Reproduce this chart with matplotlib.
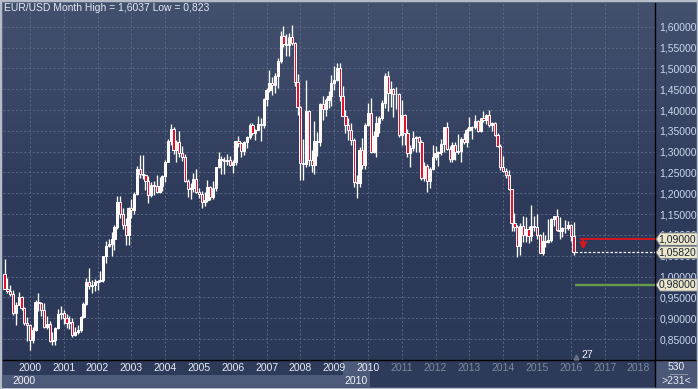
import numpy as np
import matplotlib
matplotlib.use('Agg')
import matplotlib.pyplot as plt
from matplotlib.patches import Rectangle, Polygon
from matplotlib.lines import Line2D
from matplotlib.colors import LinearSegmentedColormap

plt.rcParams['font.family'] = ['Liberation Sans', 'DejaVu Sans']

# EUR/USD monthly bars, Jan 2000 .. Nov 2016 (one row per year)
opens = [
    1.0070, 0.9711, 0.9650, 0.9575, 0.9125, 0.9330, 0.9520, 0.9240, 0.8880, 0.8830, 0.8490, 0.8710,
    0.9390, 0.9370, 0.9210, 0.8800, 0.8870, 0.8465, 0.8480, 0.8770, 0.9110, 0.9130, 0.9000, 0.8890,
    0.8900, 0.8610, 0.8680, 0.8720, 0.9020, 0.9340, 0.9870, 0.9780, 0.9810, 0.9860, 0.9890, 0.9930,
    1.0490, 1.0730, 1.0780, 1.0910, 1.1180, 1.1800, 1.1500, 1.1250, 1.0990, 1.1650, 1.1590, 1.1990,
    1.2590, 1.2460, 1.2440, 1.2300, 1.1950, 1.2200, 1.2180, 1.2030, 1.2170, 1.2410, 1.2760, 1.3260,
    1.3550, 1.3040, 1.3240, 1.2960, 1.2870, 1.2290, 1.2100, 1.2130, 1.2340, 1.2030, 1.1990, 1.1790,
    1.1840, 1.2160, 1.1920, 1.2120, 1.2620, 1.2820, 1.2790, 1.2770, 1.2810, 1.2680, 1.2760, 1.3250,
    1.3200, 1.3020, 1.3230, 1.3360, 1.3650, 1.3450, 1.3530, 1.3670, 1.3630, 1.4260, 1.4480, 1.4640,
    1.4590, 1.4810, 1.5170, 1.5780, 1.5590, 1.5550, 1.5750, 1.5600, 1.4670, 1.4080, 1.2730, 1.2700,
    1.3970, 1.2800, 1.2670, 1.3250, 1.3230, 1.4150, 1.4030, 1.4250, 1.4340, 1.4640, 1.4720, 1.5000,
    1.4330, 1.3860, 1.3630, 1.3510, 1.3290, 1.2280, 1.2240, 1.3050, 1.2680, 1.3630, 1.3930, 1.2990,
    1.3370, 1.3690, 1.3800, 1.4160, 1.4810, 1.4400, 1.4500, 1.4390, 1.4380, 1.3390, 1.3880, 1.3440,
    1.2960, 1.3080, 1.3330, 1.3340, 1.3240, 1.2360, 1.2660, 1.2300, 1.2580, 1.2860, 1.2970, 1.2990,
    1.3190, 1.3580, 1.3060, 1.2820, 1.3170, 1.3000, 1.3010, 1.3300, 1.3220, 1.3520, 1.3580, 1.3590,
    1.3740, 1.3490, 1.3800, 1.3770, 1.3870, 1.3630, 1.3690, 1.3390, 1.3130, 1.2630, 1.2530, 1.2450,
    1.2100, 1.1290, 1.1200, 1.0730, 1.1220, 1.0990, 1.1150, 1.0980, 1.1210, 1.1180, 1.1010, 1.0570,
    1.0860, 1.0830, 1.0870, 1.1380, 1.1450, 1.1130, 1.1100, 1.1170, 1.1160, 1.1240, 1.0980,
]
highs = [
    1.0414, 0.9955, 0.9805, 0.9690, 0.9400, 0.9640, 0.9530, 0.9260, 0.9035, 0.8860, 0.8800, 0.9450,
    0.9595, 0.9390, 0.9370, 0.9060, 0.8930, 0.8660, 0.8800, 0.9230, 0.9300, 0.9200, 0.9100, 0.9060,
    0.9000, 0.8780, 0.8840, 0.9060, 0.9380, 0.9960, 1.0210, 0.9920, 0.9940, 0.9910, 1.0140, 1.0500,
    1.0860, 1.0900, 1.1080, 1.1230, 1.1930, 1.1930, 1.1640, 1.1400, 1.1680, 1.1860, 1.2030, 1.2650,
    1.2930, 1.2930, 1.2470, 1.2420, 1.2280, 1.2300, 1.2430, 1.2380, 1.2440, 1.2800, 1.3300, 1.3660,
    1.3580, 1.3270, 1.3490, 1.3140, 1.2950, 1.2350, 1.2240, 1.2490, 1.2590, 1.2130, 1.2050, 1.2040,
    1.2320, 1.2180, 1.2290, 1.2640, 1.2980, 1.2900, 1.2880, 1.2940, 1.2900, 1.2790, 1.3260, 1.3370,
    1.3220, 1.3250, 1.3370, 1.3680, 1.3690, 1.3540, 1.3850, 1.3800, 1.4280, 1.4530, 1.4970, 1.4800,
    1.4880, 1.5240, 1.5900, 1.6020, 1.5820, 1.5850, 1.6037, 1.5630, 1.4860, 1.4090, 1.3300, 1.4720,
    1.4000, 1.3050, 1.3740, 1.3470, 1.4180, 1.4340, 1.4300, 1.4450, 1.4840, 1.5060, 1.5140, 1.5140,
    1.4580, 1.3990, 1.3820, 1.3690, 1.3320, 1.2450, 1.3110, 1.3330, 1.3680, 1.4160, 1.4280, 1.3500,
    1.3860, 1.3860, 1.4250, 1.4880, 1.4940, 1.4700, 1.4540, 1.4550, 1.4420, 1.4250, 1.3900, 1.3550,
    1.3170, 1.3490, 1.3380, 1.3380, 1.3280, 1.2740, 1.2700, 1.2640, 1.3170, 1.3140, 1.3010, 1.3310,
    1.3590, 1.3710, 1.3140, 1.3240, 1.3240, 1.3420, 1.3350, 1.3450, 1.3570, 1.3830, 1.3610, 1.3890,
    1.3770, 1.3820, 1.3970, 1.3910, 1.3990, 1.3700, 1.3700, 1.3440, 1.3180, 1.2890, 1.2600, 1.2570,
    1.2110, 1.1530, 1.1240, 1.1290, 1.1460, 1.1440, 1.1220, 1.1710, 1.1460, 1.1500, 1.1030, 1.1060,
    1.0990, 1.1380, 1.1410, 1.1460, 1.1620, 1.1430, 1.1190, 1.1370, 1.1330, 1.1260, 1.1300,
]
lows = [
    0.9700, 0.9600, 0.9530, 0.9080, 0.8845, 0.9320, 0.9190, 0.8850, 0.8460, 0.8228, 0.8400, 0.8690,
    0.9165, 0.9060, 0.8760, 0.8740, 0.8440, 0.8350, 0.8370, 0.8750, 0.8980, 0.8870, 0.8760, 0.8740,
    0.8560, 0.8570, 0.8620, 0.8680, 0.9010, 0.9310, 0.9700, 0.9600, 0.9660, 0.9680, 0.9860, 0.9870,
    1.0330, 1.0700, 1.0500, 1.0630, 1.1150, 1.1400, 1.1140, 1.0760, 1.0770, 1.1410, 1.1500, 1.1960,
    1.2370, 1.2340, 1.2080, 1.1760, 1.1900, 1.1960, 1.2000, 1.2000, 1.2050, 1.2260, 1.2740, 1.3150,
    1.2950, 1.2760, 1.2880, 1.2770, 1.2270, 1.1910, 1.1870, 1.2040, 1.2010, 1.1880, 1.1640, 1.1700,
    1.1800, 1.1830, 1.1860, 1.2050, 1.2600, 1.2460, 1.2460, 1.2690, 1.2660, 1.2480, 1.2690, 1.3100,
    1.2860, 1.2930, 1.3090, 1.3310, 1.3410, 1.3270, 1.3520, 1.3260, 1.3560, 1.4090, 1.4440, 1.4360,
    1.4400, 1.4520, 1.5140, 1.5520, 1.5290, 1.5300, 1.5560, 1.4580, 1.3880, 1.2330, 1.2330, 1.2630,
    1.2660, 1.2510, 1.2460, 1.2890, 1.3130, 1.3750, 1.3850, 1.4050, 1.4090, 1.4480, 1.4700, 1.4210,
    1.3850, 1.3440, 1.3270, 1.3160, 1.2140, 1.1880, 1.2150, 1.2590, 1.2590, 1.3610, 1.2970, 1.2970,
    1.2870, 1.3440, 1.3750, 1.4050, 1.3970, 1.4070, 1.3840, 1.4020, 1.3360, 1.3150, 1.3150, 1.2860,
    1.2620, 1.3020, 1.3000, 1.3000, 1.2330, 1.2290, 1.2040, 1.2130, 1.2560, 1.2800, 1.2660, 1.2930,
    1.3000, 1.3050, 1.2750, 1.2750, 1.2790, 1.2950, 1.2750, 1.3190, 1.3100, 1.3500, 1.3300, 1.3540,
    1.3480, 1.3470, 1.3710, 1.3670, 1.3590, 1.3500, 1.3370, 1.3120, 1.2570, 1.2500, 1.2360, 1.2090,
    1.1100, 1.1100, 1.0460, 1.0520, 1.0820, 1.0820, 1.0800, 1.0850, 1.1100, 1.0900, 1.0560, 1.0520,
    1.0710, 1.0810, 1.0820, 1.1210, 1.1100, 1.0910, 1.0950, 1.1050, 1.1120, 1.0850, 1.0520,
]
closes = [
    0.9711, 0.9650, 0.9575, 0.9125, 0.9330, 0.9520, 0.9240, 0.8880, 0.8830, 0.8490, 0.8710, 0.9390,
    0.9370, 0.9210, 0.8800, 0.8870, 0.8465, 0.8480, 0.8770, 0.9110, 0.9130, 0.9000, 0.8890, 0.8900,
    0.8610, 0.8680, 0.8720, 0.9020, 0.9340, 0.9870, 0.9780, 0.9810, 0.9860, 0.9890, 0.9930, 1.0490,
    1.0730, 1.0780, 1.0910, 1.1180, 1.1800, 1.1500, 1.1250, 1.0990, 1.1650, 1.1590, 1.1990, 1.2590,
    1.2460, 1.2440, 1.2300, 1.1950, 1.2200, 1.2180, 1.2030, 1.2170, 1.2410, 1.2760, 1.3260, 1.3550,
    1.3040, 1.3240, 1.2960, 1.2870, 1.2290, 1.2100, 1.2130, 1.2340, 1.2030, 1.1990, 1.1790, 1.1840,
    1.2160, 1.1920, 1.2120, 1.2620, 1.2820, 1.2790, 1.2770, 1.2810, 1.2680, 1.2760, 1.3250, 1.3200,
    1.3020, 1.3230, 1.3360, 1.3650, 1.3450, 1.3530, 1.3670, 1.3630, 1.4260, 1.4480, 1.4640, 1.4590,
    1.4810, 1.5170, 1.5780, 1.5590, 1.5550, 1.5750, 1.5600, 1.4670, 1.4080, 1.2730, 1.2700, 1.3970,
    1.2800, 1.2670, 1.3250, 1.3230, 1.4150, 1.4030, 1.4250, 1.4340, 1.4640, 1.4720, 1.5000, 1.4330,
    1.3860, 1.3630, 1.3510, 1.3290, 1.2280, 1.2240, 1.3050, 1.2680, 1.3630, 1.3930, 1.2990, 1.3370,
    1.3690, 1.3800, 1.4160, 1.4810, 1.4400, 1.4500, 1.4390, 1.4380, 1.3390, 1.3880, 1.3440, 1.2960,
    1.3080, 1.3330, 1.3340, 1.3240, 1.2360, 1.2660, 1.2300, 1.2580, 1.2860, 1.2970, 1.2990, 1.3190,
    1.3580, 1.3060, 1.2820, 1.3170, 1.3000, 1.3010, 1.3300, 1.3220, 1.3520, 1.3580, 1.3590, 1.3740,
    1.3490, 1.3800, 1.3770, 1.3870, 1.3630, 1.3690, 1.3390, 1.3130, 1.2630, 1.2530, 1.2450, 1.2100,
    1.1290, 1.1200, 1.0730, 1.1220, 1.0990, 1.1150, 1.0980, 1.1210, 1.1180, 1.1010, 1.0570, 1.0860,
    1.0830, 1.0870, 1.1380, 1.1450, 1.1130, 1.1100, 1.1170, 1.1160, 1.1240, 1.0980, 1.0582,
]

year_labels = [str(y) for y in range(2000, 2019)]
price_ticks = [0.85, 0.90, 0.95, 1.00, 1.05, 1.10, 1.15, 1.20, 1.25, 1.30,
               1.35, 1.40, 1.45, 1.50, 1.55, 1.60]
level_red = 1.09
level_last = 1.0582
level_green = 0.98
title = 'EUR/USD Month High = 1,6037 Low = 0,823'

W, H = 698, 389
fig = plt.figure(figsize=(W / 100, H / 100), dpi=100)
fig.patch.set_facecolor('#2e3a5a')


def fx(px):
    return px / W


def fy(py):
    # py counted from the top of the image
    return 1 - py / H


# background gradient (lighter at the top)
bg = fig.add_axes([0, 0, 1, 1], zorder=-5)
grad = np.linspace(0, 1, 256).reshape(-1, 1)
cmap = LinearSegmentedColormap.from_list('bg', ['#2c3858', '#2f3b5b', '#43516f'])
bg.imshow(grad, aspect='auto', cmap=cmap, extent=[0, 1, 0, 1], origin='lower')
bg.set_xlim(0, 1)
bg.set_ylim(0, 1)
bg.axis('off')

# main price panel
ax = fig.add_axes([fx(3), fy(360), fx(652), 357 / H])
ax.set_facecolor('none')
ax.set_xlim(-0.57, 230.9)
ax.set_ylim(0.7998, 1.6569)
ax.set_axisbelow(True)

o = np.array(opens)
hi = np.array(highs)
lo = np.array(lows)
c = np.array(closes)
idx = np.arange(len(c))
up = c >= o

ax.vlines(idx, lo, hi, color='white', lw=0.95, zorder=3)
ax.bar(idx, np.abs(c - o), bottom=np.minimum(o, c), width=0.8,
       color=np.where(up, '#fdf8f0', '#e8102c'), edgecolor='white',
       linewidth=0.7, zorder=4)

# grid + axes
ax.set_yticks(price_ticks)
ax.set_yticklabels([f'{t:.5f}'.replace('.', ',') for t in price_ticks])
ax.yaxis.tick_right()
ax.tick_params(axis='y', length=0, pad=3, labelsize=7.5, labelcolor='#c9d8ef')
year_pos = [9 + 12 * k for k in range(len(year_labels))]
ax.set_xticks(year_pos)
ax.set_xticklabels(year_labels)
ax.tick_params(axis='x', length=0, pad=2, labelsize=7.5)
for lab, yl in zip(ax.get_xticklabels(), year_labels):
    lab.set_color('#e8ecf4' if int(yl) <= 2010 else '#7f889e')
ax.grid(True, color='#5f6d8b', linestyle=(0, (2.5, 2.5)), linewidth=0.6)
for s in ['top', 'left']:
    ax.spines[s].set_visible(False)
for s in ['right', 'bottom']:
    ax.spines[s].set_color('black')
    ax.spines[s].set_linewidth(1)

# level lines
x_end = ax.get_xlim()[1]
ax.hlines(level_red, 204.3, x_end, color='#e3141c', lw=1.3, zorder=5)
ax.hlines(level_last, 202.6, x_end, color='white', lw=0.9,
          linestyle=(0, (2, 1.5)), zorder=5)
ax.hlines(level_green, 202.6, x_end, color='#6a9a4c', lw=1.7, zorder=5)
ax.annotate('', xy=(205.4, 1.065), xytext=(205.4, level_red),
            arrowprops=dict(arrowstyle='->', color='#e3141c', lw=1.4,
                            mutation_scale=10, shrinkA=0, shrinkB=0), zorder=6)
ax.plot([202.9], [0.807], marker='^', color='#6b7284', markersize=3.5,
        linestyle='none', zorder=6)

# price tags on the right scale (they sit over the scale labels, as in the source)
ax_r = fig.add_axes([fx(655), fy(360), fx(43), 357 / H], zorder=3)
ax_r.set_xlim(0, 43)
ax_r.set_ylim(ax.get_ylim())
ax_r.axis('off')
ax_r.patch.set_alpha(0)
hh = 6.2 / 416.5
for v in [level_red, level_last, level_green]:
    pts = [(1, v), (5, v + hh), (42.5, v + hh), (42.5, v - hh), (5, v - hh)]
    ax_r.add_patch(Polygon(pts, closed=True, facecolor='#ece7cb',
                           edgecolor='#6b7280', lw=0.6, zorder=4))
    ax_r.text(3.5, v, f'{v:.5f}'.replace('.', ','), ha='left', va='center',
              fontsize=7.5, color='#1c2233', zorder=5)


# bottom bands
def frect(x0, y0, x1, y1, color, z=-1):
    fig.add_artist(Rectangle((fx(x0), fy(y1)), fx(x1 - x0), (y1 - y0) / H,
                             transform=fig.transFigure, facecolor=color,
                             edgecolor='none', zorder=z))


frect(3, 361, 655, 387, '#2e3a5a')
frect(3, 375, 370, 387, '#4e5a79')
frect(343, 361, 370, 387, '#4e5a79')
frect(656, 361, 696, 387, '#4a5776')
fig.text(fx(12), fy(381), '2000', ha='left', va='center', fontsize=7.5, color='#f0f3f8')
fig.text(fx(344), fy(381), '2010', ha='left', va='center', fontsize=7.5, color='#f0f3f8')
fig.text(fx(676), fy(367), '530', ha='center', va='center', fontsize=7.5, color='#e8ecf4')
fig.text(fx(676), fy(381.5), '>231<', ha='center', va='center', fontsize=7.5, color='#e8ecf4')
fig.add_artist(Line2D([fx(670), fx(687)], [fy(373.5), fy(373.5)], transform=fig.transFigure,
                      color='#8a92a4', lw=0.7))
fig.add_artist(Line2D([fx(655), fx(655)], [fy(360), fy(387)], transform=fig.transFigure,
                      color='black', lw=1))
fig.add_artist(Line2D([fx(655), fx(697)], [fy(360), fy(360)], transform=fig.transFigure,
                      color='black', lw=1))
fig.text(fx(587), fy(355.5), '27', ha='center', va='center', fontsize=7.5, color='#f0f3f8')

fig.text(fx(4), fy(8), title, ha='left', va='center', fontsize=7.5, color='#e4eaf2')

# outer frame
fig.add_artist(Rectangle((0, 0), 1, 1, transform=fig.transFigure, fill=False,
                         edgecolor='#b4bcc8', lw=2.5, zorder=10))

fig.savefig('out.png', dpi=100)
